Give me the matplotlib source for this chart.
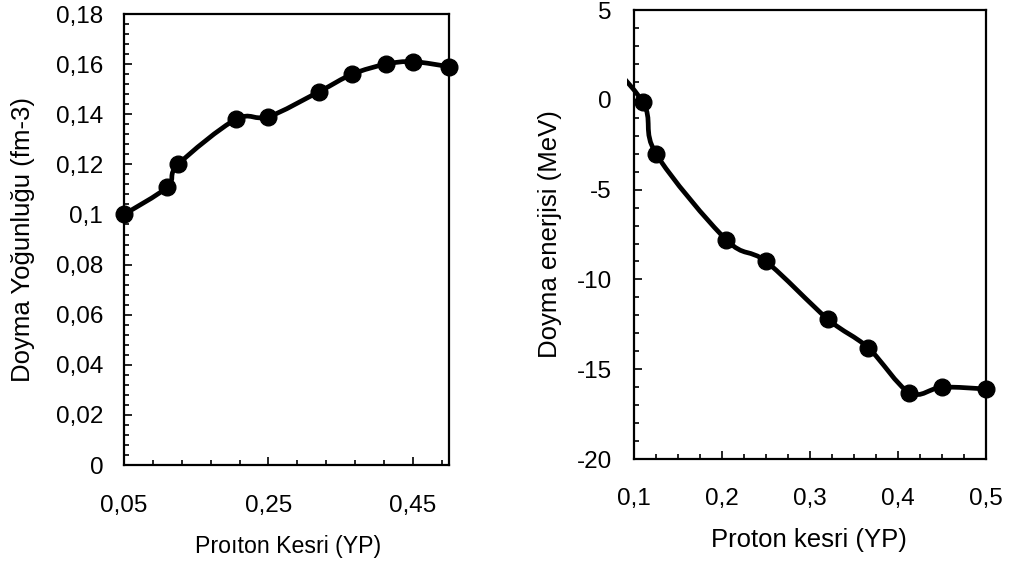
import numpy as np
import matplotlib
matplotlib.use("Agg")
import matplotlib.pyplot as plt
from matplotlib.path import Path
from matplotlib.patches import PathPatch, Rectangle
from matplotlib.ticker import MultipleLocator, FuncFormatter

# proton fraction values (shared by both panels)
yp = [0.05, 0.11, 0.125, 0.205, 0.25, 0.32, 0.366, 0.413, 0.45, 0.5]
# saturation density (fm-3)
density = [0.100, 0.111, 0.120, 0.138, 0.139, 0.149, 0.156, 0.160, 0.161, 0.159]
# saturation energy (MeV)
energy = [3.2, -0.13, -3.0, -7.8, -9.0, -12.2, -13.8, -16.3, -16.0, -16.1]

plt.rcParams["font.family"] = ["Liberation Sans", "DejaVu Sans"]


def smooth_path(x, y):
    # excel-like smoothed line: cubic bezier through every point
    p = np.column_stack([x, y]).astype(float)
    n = len(p)
    verts = [p[0]]
    codes = [Path.MOVETO]
    for i in range(n - 1):
        prev = p[i - 1] if i > 0 else p[i]
        nxt = p[i + 2] if i + 2 < n else p[i + 1]
        c1 = p[i] + (p[i + 1] - prev) / 6.0
        c2 = p[i + 1] - (nxt - p[i]) / 6.0
        verts += [c1, c2, p[i + 1]]
        codes += [Path.CURVE4] * 3
    return Path(verts, codes)


def comma(v, pos):
    s = "%g" % round(v, 6)
    return s.replace(".", ",")


fig = plt.figure(figsize=(10.09, 5.66), dpi=100)
ax1 = fig.add_axes([0.1229, 0.1784, 0.3221, 0.7968])
ax2 = fig.add_axes([0.6283, 0.1890, 0.3489, 0.7933])

# left panel
ax1.set_xlim(0.05, 0.5)
ax1.set_ylim(0, 0.18)
patch = PathPatch(smooth_path(yp, density), fill=False, lw=3.4, color="black",
                  capstyle="round", joinstyle="round")
ax1.add_patch(patch)
ax1.plot(yp, density, "o", color="black", ms=12, clip_on=False, zorder=5)
ax1.xaxis.set_major_locator(MultipleLocator(0.2, offset=0.05))
ax1.xaxis.set_minor_locator(MultipleLocator(0.04, offset=0.05))
ax1.yaxis.set_major_locator(MultipleLocator(0.02))
ax1.yaxis.set_minor_locator(MultipleLocator(0.004))
ax1.set_xlabel("Proıton Kesri (YP)", fontsize=16.7, va="center")
ax1.set_ylabel("Doyma Yoğunluğu (fm-3)", fontsize=18.5, va="center")
ax1.xaxis.set_label_coords(0.505, -0.18)
ax1.yaxis.set_label_coords(-0.31, 0.5)
ax1.tick_params(axis="x", pad=21.5)
ax1.tick_params(axis="y", pad=15)

# right panel
ax2.set_xlim(0.1, 0.5)
ax2.set_ylim(-20, 5)
patch2 = PathPatch(smooth_path(yp, energy), fill=False, lw=3.4, color="black",
                   capstyle="butt", joinstyle="round")
ax2.add_patch(patch2)
patch2.set_clip_path(Rectangle((-0.02, -0.02), 1.04, 1.04, transform=ax2.transAxes))
xa = np.array(yp)
ea = np.array(energy)
keep = xa >= 0.1
ax2.plot(xa[keep], ea[keep], "o", color="black", ms=12, clip_on=False, zorder=5)
ax2.xaxis.set_major_locator(MultipleLocator(0.1))
ax2.xaxis.set_minor_locator(MultipleLocator(0.025))
ax2.yaxis.set_major_locator(MultipleLocator(5))
ax2.yaxis.set_minor_locator(MultipleLocator(1))
ax2.set_xlabel("Proton kesri (YP)", fontsize=18.5, va="center")
ax2.set_ylabel("Doyma enerjisi (MeV)", fontsize=18.5, va="center")
ax2.xaxis.set_label_coords(0.497, -0.18)
ax2.yaxis.set_label_coords(-0.239, 0.5)
ax2.tick_params(axis="x", pad=21)
ax2.tick_params(axis="y", pad=16)

for ax in (ax1, ax2):
    ax.xaxis.set_major_formatter(FuncFormatter(comma))
    ax.yaxis.set_major_formatter(FuncFormatter(comma))
    ax.tick_params(which="both", direction="in", top=False, right=False,
                   labelsize=17.5, width=1.2, color="black")
    ax.tick_params(which="major", length=5.5)
    ax.tick_params(which="minor", length=3.5)
    for s in ax.spines.values():
        s.set_linewidth(1.6)
        s.set_color("black")

fig.savefig("out.png", dpi=100)
